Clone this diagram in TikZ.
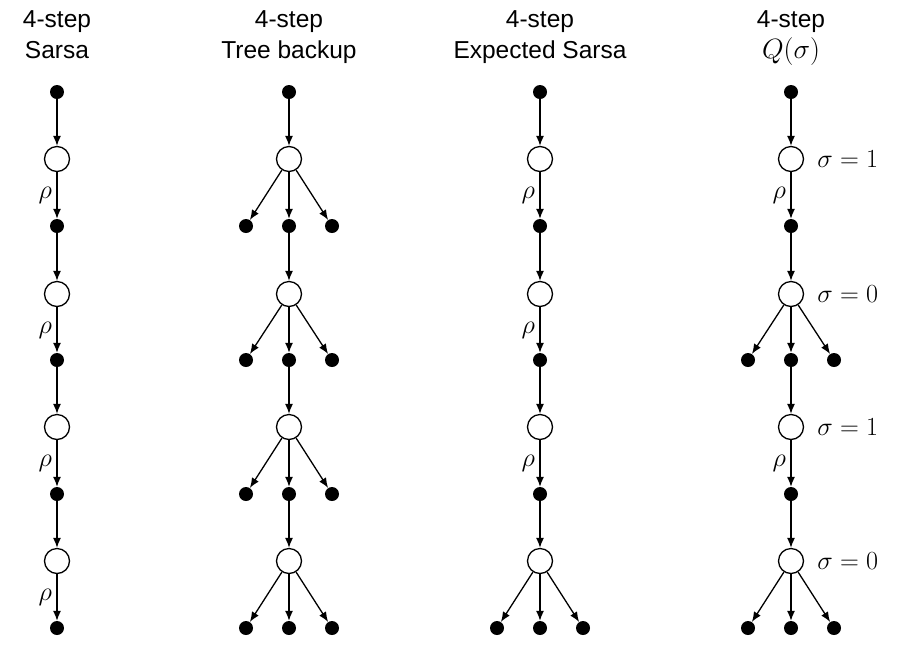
\documentclass[tikz,border=0pt]{standalone}
\usepackage{fontspec}
\setmainfont{Liberation Sans}
\usetikzlibrary{arrows.meta}
\begin{document}
\begin{tikzpicture}[x=1pt,y=-1pt,
  dot/.style={circle,fill=black,inner sep=0pt,minimum size=14pt},
  act/.style={circle,draw=black,line width=1.3pt,fill=white,inner sep=0pt,minimum size=25pt},
  arr/.style={line width=1.3pt,-{Latex[length=10pt,width=8pt]}},
  title/.style={anchor=base,font=\fontsize{24.5}{30}\selectfont,inner sep=0pt},
  lab/.style={font=\fontsize{24.88}{30}\selectfont}]
\useasboundingbox (0,0) rectangle (902,657);
% titles
\foreach \c/\x/\t in {a/57/Sarsa,b/289/Tree backup,c/540/Expected Sarsa,d/791/{\scalebox{1.12}{$Q(\sigma)$}}}{
  \node[title] (\c-t1) at (\x,27) {4-step};
  \node[title] (\c-t2) at (\x,58) {\t};
}
% nodes
\foreach \c/\x in {a/57,b/289,c/540,d/791}{
  \node[dot] (\c-s0) at (\x,92) {};
  \foreach \i/\qy/\sy in {1/159/226,2/294/360,3/427/494,4/561/628}{
    \node[act] (\c-q\i) at (\x,\qy) {};
    \node[dot] (\c-s\i) at (\x,\sy) {};
  }
  \foreach \i [evaluate=\i as \j using int(\i-1)] in {1,2,3,4}{
    \draw[arr] (\c-s\j) -- (\c-q\i);
  }
}
% plain (sampled) transitions with rho
\foreach \c/\i in {a/1,a/2,a/3,a/4,c/1,c/2,c/3,d/1,d/3}{
  \draw[arr] (\c-q\i) -- (\c-s\i) node[midway,left,lab,xshift=-1pt] {\scalebox{1.06}{$\rho$}};
}
% tree (expected) transitions
\foreach \c/\x/\i/\sy in {b/289/1/226,b/289/2/360,b/289/3/494,b/289/4/628,c/540/4/628,d/791/2/360,d/791/4/628}{
  \node[dot] (\c-l\i) at (\x-43,\sy) {};
  \node[dot] (\c-r\i) at (\x+43,\sy) {};
  \draw[arr] (\c-q\i) -- (\c-l\i);
  \draw[arr] (\c-q\i) -- (\c-s\i);
  \draw[arr] (\c-q\i) -- (\c-r\i);
}
% sigma labels
\foreach \i/\v in {1/1,2/0,3/1,4/0}{
  \node[lab,anchor=west,xshift=13pt,inner sep=0pt] (d-sig\i) at (d-q\i.east) {\scalebox{1.05}{$\sigma=\v$}};
}
\end{tikzpicture}
\end{document}
